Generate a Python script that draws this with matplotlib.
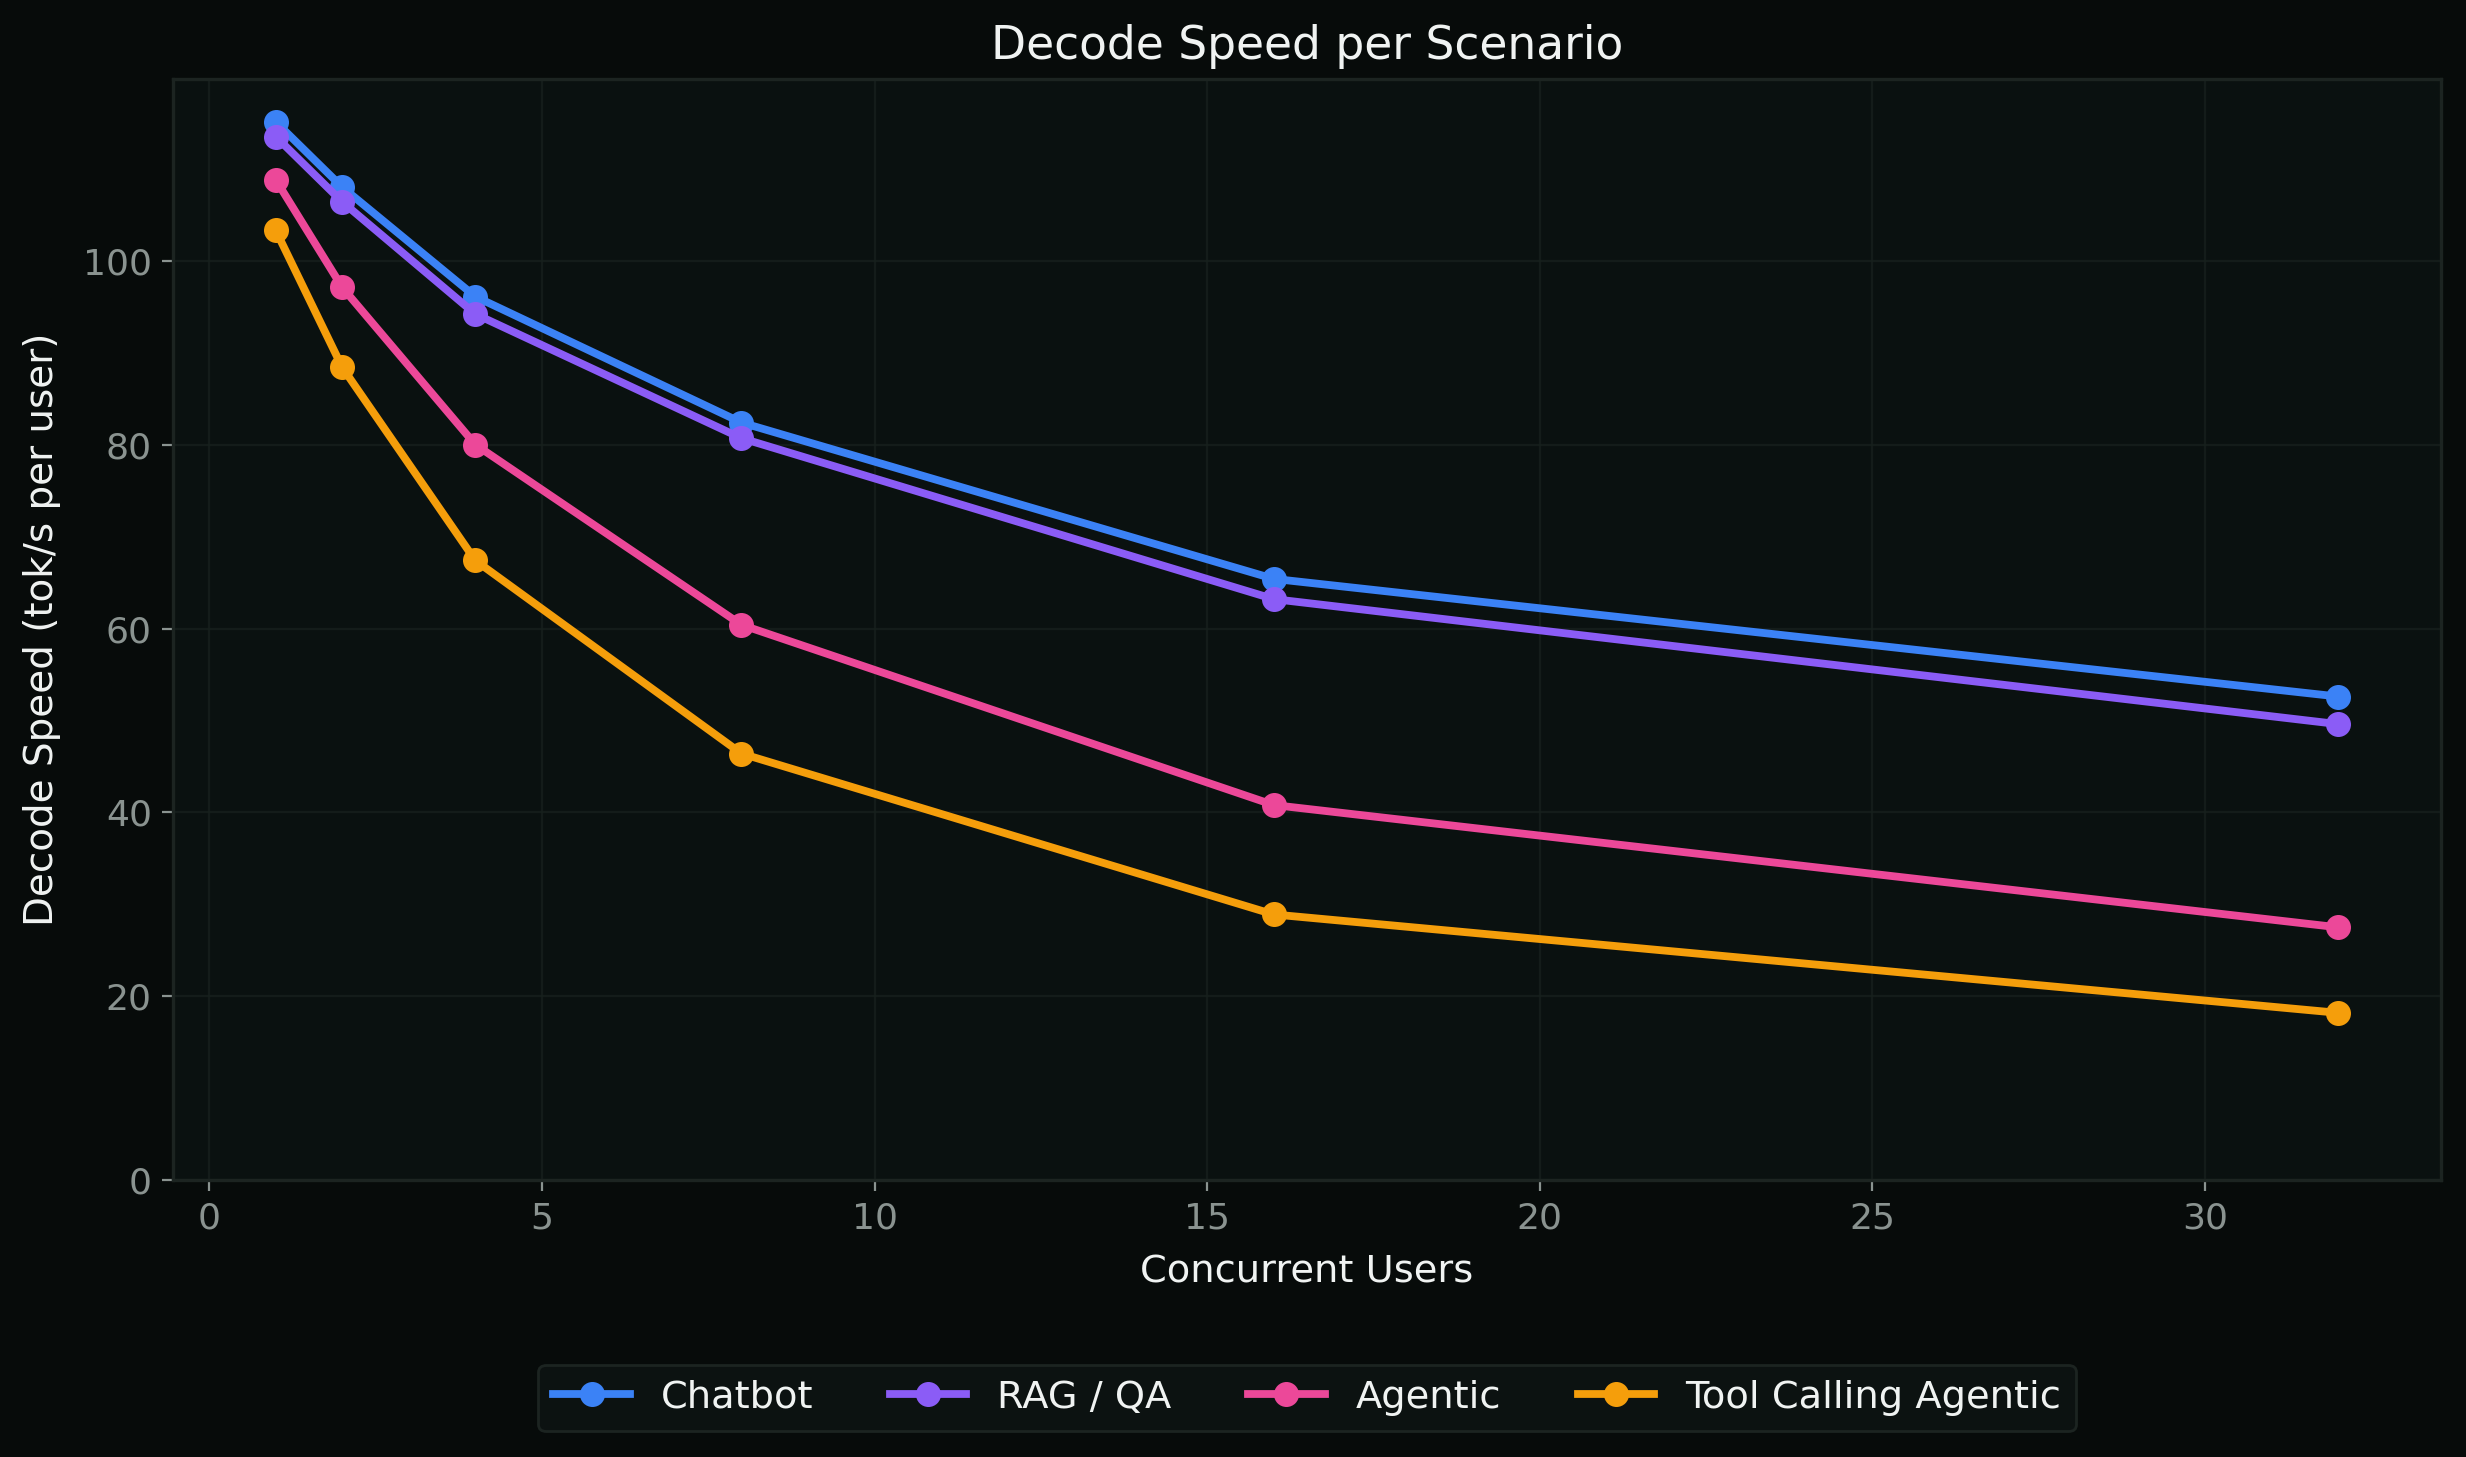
import matplotlib
matplotlib.use("Agg")
import matplotlib.pyplot as plt

# Data
users = [1, 2, 4, 8, 16, 32]
chatbot = [115.1, 108.0, 96.1, 82.4, 65.4, 52.6]
rag_qa = [113.5, 106.4, 94.2, 80.7, 63.2, 49.6]
agentic = [108.8, 97.1, 80.0, 60.4, 40.8, 27.5]
tool_calling = [103.3, 88.4, 67.4, 46.4, 28.9, 18.2]

series_names = ["Chatbot", "RAG / QA", "Agentic", "Tool Calling Agentic"]
series_values = [chatbot, rag_qa, agentic, tool_calling]
series_colors = ["#3b82f6", "#8b5cf6", "#ec4899", "#f59e0b"]

FIG_BG = "#070b0a"
AX_BG = "#0a1110"
EDGE = "#1c2421"
TEXT = "#f0f3f2"
TICK = "#8a9390"

fig = plt.figure(figsize=(12.33, 7.285), dpi=200, facecolor=FIG_BG)
ax = fig.add_axes([0.070, 0.190, 0.920, 0.756])
ax.set_facecolor(AX_BG)

for name, vals, col in zip(series_names, series_values, series_colors):
    ax.plot(users, vals, marker="o", markersize=8, linewidth=2.8, color=col, label=name)

ax.set_ylim(0, 119.8)
ax.grid(True, color="#17201d", linewidth=0.8, alpha=0.8)
ax.set_axisbelow(True)

for sp in ax.spines.values():
    sp.set_color(EDGE)
    sp.set_linewidth(1.2)
ax.tick_params(colors=TICK, labelsize=13, length=4)
for lbl in ax.get_xticklabels() + ax.get_yticklabels():
    lbl.set_color(TICK)

ax.set_title("Decode Speed per Scenario", color=TEXT, fontsize=16.4, pad=7)
ax.set_xlabel("Concurrent Users", color=TEXT, fontsize=13.8, labelpad=7)
ax.set_ylabel("Decode Speed (tok/s per user)", color=TEXT, fontsize=14, labelpad=8)

leg = ax.legend(loc="upper center", bbox_to_anchor=(0.5, -0.15), ncol=4,
                fontsize=13.8, facecolor="#0c1211", edgecolor=EDGE,
                framealpha=1.0, columnspacing=2.0)
for t in leg.get_texts():
    t.set_color(TEXT)

fig.savefig("out.png", dpi=200, facecolor=FIG_BG)
